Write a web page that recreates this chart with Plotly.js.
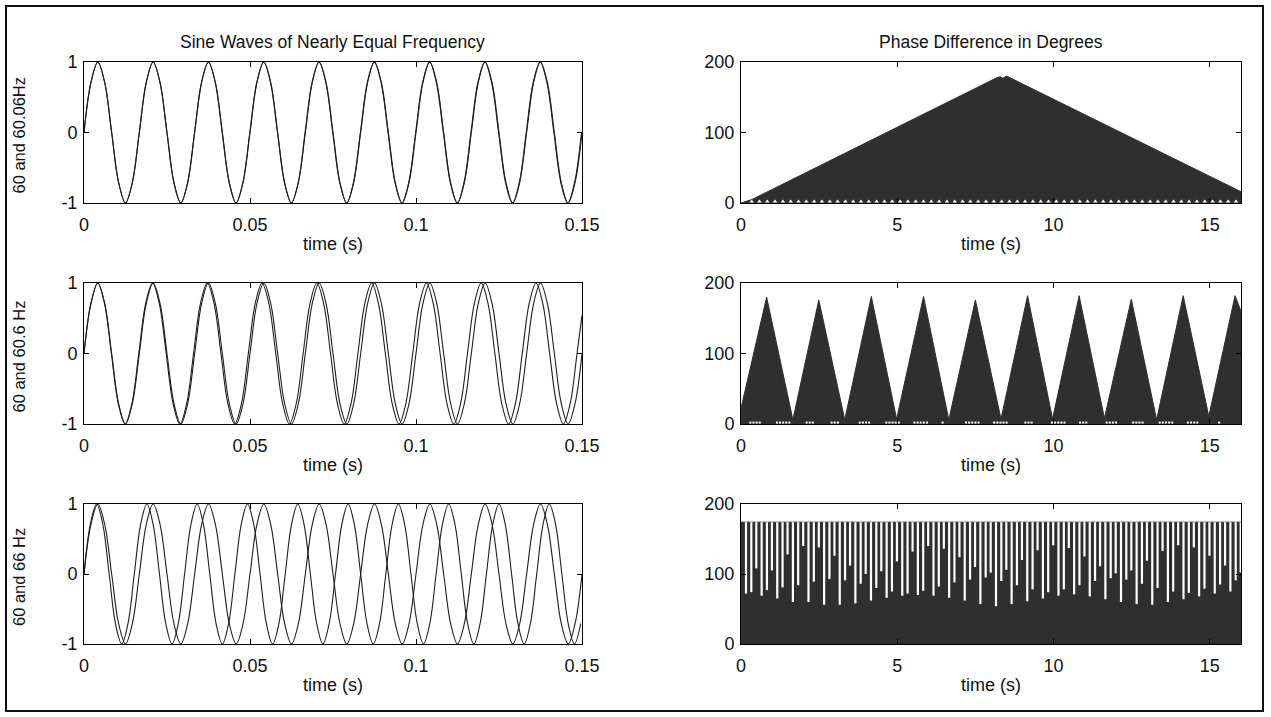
<!DOCTYPE html>
<html>
<head>
<meta charset="utf-8">
<script src="https://cdn.plot.ly/plotly-3.0.1.min.js"></script>
<style>
html,body{margin:0;padding:0;background:#fff;}
#chart{width:1271px;height:717px;}
</style>
</head>
<body>
<div id="chart"></div>
<script>
// ---------------- DATA ----------------
const panelTitles = ["Sine Waves of Nearly Equal Frequency", "Phase Difference in Degrees"];
const pairLabels = ["60 and 60.06Hz", "60 and 60.6 Hz", "60 and 66 Hz"];
const timeLabel = "time (s)";

const sineTickVals = [0, 0.05, 0.1, 0.15];
const sineTickText = ["0", "0.05", "0.1", "0.15"];
const ampTickVals = [-1, 0, 1];
const ampTickText = ["-1", "0", "1"];
const phaseTimeTickVals = [0, 5, 10, 15];
const phaseTimeTickText = ["0", "5", "10", "15"];
const degTickVals = [0, 100, 200];
const degTickText = ["0", "100", "200"];

// 60 Hz wave: time (s) and amplitude
const t60 = [0,0.00208,0.00417,0.00625,0.00833,0.01042,0.0125,0.01458,
  0.01667,0.01875,0.02083,0.02292,0.025,0.02708,0.02917,0.03125,
  0.03333,0.03542,0.0375,0.03958,0.04167,0.04375,0.04583,0.04792,
  0.05,0.05208,0.05417,0.05625,0.05833,0.06042,0.0625,0.06458,
  0.06667,0.06875,0.07083,0.07292,0.075,0.07708,0.07917,0.08125,
  0.08333,0.08542,0.0875,0.08958,0.09167,0.09375,0.09583,0.09792,
  0.1,0.10208,0.10417,0.10625,0.10833,0.11042,0.1125,0.11458,
  0.11667,0.11875,0.12083,0.12292,0.125,0.12708,0.12917,0.13125,
  0.13333,0.13542,0.1375,0.13958,0.14167,0.14375,0.14583,0.14792,
  0.15];
const y60 = [0,0.707,1,0.707,0,-0.707,-1,-0.707,
  0,0.707,1,0.707,0,-0.707,-1,-0.707,
  0,0.707,1,0.707,0,-0.707,-1,-0.707,
  0,0.707,1,0.707,0,-0.707,-1,-0.707,
  0,0.707,1,0.707,0,-0.707,-1,-0.707,
  0,0.707,1,0.707,0,-0.707,-1,-0.707,
  0,0.707,1,0.707,0,-0.707,-1,-0.707,
  0,0.707,1,0.707,0,-0.707,-1,-0.707,
  0,0.707,1,0.707,0,-0.707,-1,-0.707,
  0];

// 60.06 Hz wave
const t6006 = [0,0.00208,0.00416,0.00624,0.00833,0.01041,0.01249,0.01457,
  0.01665,0.01873,0.02081,0.02289,0.02498,0.02706,0.02914,0.03122,
  0.0333,0.03538,0.03746,0.03954,0.04163,0.04371,0.04579,0.04787,
  0.04995,0.05203,0.05411,0.05619,0.05828,0.06036,0.06244,0.06452,
  0.0666,0.06868,0.07076,0.07284,0.07493,0.07701,0.07909,0.08117,
  0.08325,0.08533,0.08741,0.08949,0.09158,0.09366,0.09574,0.09782,
  0.0999,0.10198,0.10406,0.10614,0.10823,0.11031,0.11239,0.11447,
  0.11655,0.11863,0.12071,0.12279,0.12488,0.12696,0.12904,0.13112,
  0.1332,0.13528,0.13736,0.13944,0.14153,0.14361,0.14569,0.14777,
  0.14985];
const y6006 = [0,0.707,1,0.707,0,-0.707,-1,-0.707,
  0,0.707,1,0.707,0,-0.707,-1,-0.707,
  0,0.707,1,0.707,0,-0.707,-1,-0.707,
  0,0.707,1,0.707,0,-0.707,-1,-0.707,
  0,0.707,1,0.707,0,-0.707,-1,-0.707,
  0,0.707,1,0.707,0,-0.707,-1,-0.707,
  0,0.707,1,0.707,0,-0.707,-1,-0.707,
  0,0.707,1,0.707,0,-0.707,-1,-0.707,
  0,0.707,1,0.707,0,-0.707,-1,-0.707,
  0];

// 60.6 Hz wave
const t606 = [0,0.00206,0.00413,0.00619,0.00825,0.01031,0.01238,0.01444,
  0.0165,0.01856,0.02063,0.02269,0.02475,0.02682,0.02888,0.03094,
  0.033,0.03507,0.03713,0.03919,0.04125,0.04332,0.04538,0.04744,
  0.0495,0.05157,0.05363,0.05569,0.05776,0.05982,0.06188,0.06394,
  0.06601,0.06807,0.07013,0.07219,0.07426,0.07632,0.07838,0.08045,
  0.08251,0.08457,0.08663,0.0887,0.09076,0.09282,0.09488,0.09695,
  0.09901,0.10107,0.10314,0.1052,0.10726,0.10932,0.11139,0.11345,
  0.11551,0.11757,0.11964,0.1217,0.12376,0.12582,0.12789,0.12995,
  0.13201,0.13408,0.13614,0.1382,0.14026,0.14233,0.14439,0.14645,
  0.14851,0.15];
const y606 = [0,0.707,1,0.707,0,-0.707,-1,-0.707,
  0,0.707,1,0.707,0,-0.707,-1,-0.707,
  0,0.707,1,0.707,0,-0.707,-1,-0.707,
  0,0.707,1,0.707,0,-0.707,-1,-0.707,
  0,0.707,1,0.707,0,-0.707,-1,-0.707,
  0,0.707,1,0.707,0,-0.707,-1,-0.707,
  0,0.707,1,0.707,0,-0.707,-1,-0.707,
  0,0.707,1,0.707,0,-0.707,-1,-0.707,
  0,0.707,1,0.707,0,-0.707,-1,-0.707,
  0,0.54];

// 66 Hz wave
const t66 = [0,0.00189,0.00379,0.00568,0.00758,0.00947,0.01136,0.01326,
  0.01515,0.01705,0.01894,0.02083,0.02273,0.02462,0.02652,0.02841,
  0.0303,0.0322,0.03409,0.03598,0.03788,0.03977,0.04167,0.04356,
  0.04545,0.04735,0.04924,0.05114,0.05303,0.05492,0.05682,0.05871,
  0.06061,0.0625,0.06439,0.06629,0.06818,0.07008,0.07197,0.07386,
  0.07576,0.07765,0.07955,0.08144,0.08333,0.08523,0.08712,0.08902,
  0.09091,0.0928,0.0947,0.09659,0.09848,0.10038,0.10227,0.10417,
  0.10606,0.10795,0.10985,0.11174,0.11364,0.11553,0.11742,0.11932,
  0.12121,0.12311,0.125,0.12689,0.12879,0.13068,0.13258,0.13447,
  0.13636,0.13826,0.14015,0.14205,0.14394,0.14583,0.14773,0.14962];
const y66 = [0,0.707,1,0.707,0,-0.707,-1,-0.707,
  0,0.707,1,0.707,0,-0.707,-1,-0.707,
  0,0.707,1,0.707,0,-0.707,-1,-0.707,
  0,0.707,1,0.707,0,-0.707,-1,-0.707,
  0,0.707,1,0.707,0,-0.707,-1,-0.707,
  0,0.707,1,0.707,0,-0.707,-1,-0.707,
  0,0.707,1,0.707,0,-0.707,-1,-0.707,
  0,0.707,1,0.707,0,-0.707,-1,-0.707,
  0,0.707,1,0.707,0,-0.707,-1,-0.707,
  0,0.707,1,0.707,0,-0.707,-1,-0.707];

// Phase difference 60 vs 60.06 Hz (envelope, degrees)
const phase1T = [0, 0.35, 8.2, 8.3, 8.38, 8.5, 16];
const phase1Y = [0, 5, 178, 179, 177, 180, 16];
// white sample dips along the bottom
const dips1T = [0.34,0.59,0.84,1.09,1.34,1.59,1.84,2.09,2.34,2.59,2.84,3.09,3.34,3.59,3.84,
  4.09,4.34,4.59,4.84,5.09,5.34,5.59,5.84,6.09,6.34,6.59,6.84,7.09,7.34,7.59,7.84,
  8.09,8.34,8.59,8.84,9.09,9.34,9.59,9.84,10.09,10.34,10.59,10.84,11.09,11.34,11.59,11.84,
  12.09,12.34,12.59,12.84,13.09,13.34,13.59,13.84,14.09,14.34,14.59,14.84,15.09,15.34,15.59,15.84];
const dipLevel = 2;

// Phase difference 60 vs 60.6 Hz (envelope, degrees)
const phase2T = [0,0.82,1.66,2.49,3.32,4.17,4.98,5.84,6.65,7.5,8.32,9.17,9.97,10.82,11.63,12.49,13.3,14.15,14.97,15.81,16];
const phase2Y = [22,180,6,176,6,181,7,181,6,176,7,182,7,182,8,177,6,182,11,182,160];
const dips2T = [0.3,0.4,0.5,0.6, 1.15,1.25,1.35,1.45,1.55, 2.1,2.2,2.3, 2.9,3.0,3.1,
  3.8,3.9,4.0,4.1, 4.65,4.75,4.85,4.95,5.05, 5.55,5.65,5.75,5.85,5.95, 6.45,
  7.2,7.3,7.4,7.5,7.6, 8.1,8.2,8.3,8.4,8.5, 9.1,9.2,9.3, 9.95,10.05,10.15,10.25,10.35,
  10.85,10.95,11.05, 11.7,11.8,11.9,12.0, 12.55,12.65,12.75,12.85,
  13.4,13.5,13.6,13.7,13.8, 14.3,14.4,14.5,14.6, 15.3];

// Phase difference 60 vs 66 Hz: top level and the white gaps
const phase3T = [0, 16];
const phase3Y = [174, 174];
const gap3T = [0.16,0.33,0.49,0.66,0.83,0.99, 1.16,1.33,1.49,1.66,1.83,1.99,
  2.16,2.33,2.49,2.66,2.83,2.99, 3.16,3.33,3.49,3.66,3.83,3.99,
  4.16,4.33,4.49,4.66,4.83,4.99, 5.16,5.33,5.49,5.66,5.83,5.99,
  6.16,6.33,6.49,6.66,6.83,6.99, 7.16,7.33,7.49,7.66,7.83,7.99,
  8.16,8.33,8.49,8.66,8.83,8.99, 9.16,9.33,9.49,9.66,9.83,9.99,
  10.16,10.33,10.49,10.66,10.83,10.99, 11.16,11.33,11.49,11.66,11.83,11.99,
  12.16,12.33,12.49,12.66,12.83,12.99, 13.16,13.33,13.49,13.66,13.83,13.99,
  14.16,14.33,14.49,14.66,14.83,14.99, 15.16,15.33,15.49,15.66,15.83,15.99];
const gap3Bottom = [72,74,108, 69,77,105, 65,81,128, 60,84,140, 60,89,138, 56,93,126,
  56,91,112, 58,86,100, 62,80,104, 66,75,118, 69,72,132, 70,76,140,
  69,82,136, 66,88,124, 62,92,110, 57,95,102, 54,90,106, 57,84,120,
  61,78,134, 65,74,141, 69,78,137, 71,84,125, 68,90,111, 64,94,101,
  60,92,105, 57,86,119, 56,80,133, 60,75,141, 64,73,138, 68,79,126,
  72,85,112, 75,91,102];

// ---------------- STYLE / LAYOUT ----------------
const W = 1271, H = 717;
const FONT = 'Liberation Sans, Arial, Helvetica, sans-serif';
const INK = '#1e1e1e';
const FILL = '#2f2f2f';

const leftDom = [84 / W, 582 / W];
const rightDom = [741 / W, 1241 / W];
const rowsPx = [[62, 203], [283, 424], [504, 644]];
const rowDom = rowsPx.map(r => [1 - r[1] / H, 1 - r[0] / H]);

const waveLine = {color: INK, width: 1.1, shape: 'spline', smoothing: 1};
const traces = [
  {x: t60, y: y60, xaxis: 'x', yaxis: 'y', mode: 'lines', line: waveLine},
  {x: t6006, y: y6006, xaxis: 'x', yaxis: 'y', mode: 'lines', line: waveLine},
  {x: t60, y: y60, xaxis: 'x3', yaxis: 'y3', mode: 'lines', line: waveLine},
  {x: t606, y: y606, xaxis: 'x3', yaxis: 'y3', mode: 'lines', line: waveLine},
  {x: t60, y: y60, xaxis: 'x5', yaxis: 'y5', mode: 'lines', line: waveLine},
  {x: t66, y: y66, xaxis: 'x5', yaxis: 'y5', mode: 'lines', line: waveLine},

  {x: phase1T, y: phase1Y, xaxis: 'x2', yaxis: 'y2', mode: 'lines', fill: 'tozeroy',
   fillcolor: FILL, line: {color: FILL, width: 1}},
  {x: dips1T, y: dips1T.map(() => dipLevel), xaxis: 'x2', yaxis: 'y2', mode: 'markers',
   marker: {symbol: 'triangle-up', size: 4, color: '#ffffff', line: {width: 0}}},

  {x: phase2T, y: phase2Y, xaxis: 'x4', yaxis: 'y4', mode: 'lines', fill: 'tozeroy',
   fillcolor: FILL, line: {color: FILL, width: 1}},
  {x: dips2T, y: dips2T.map(() => dipLevel), xaxis: 'x4', yaxis: 'y4', mode: 'markers',
   marker: {symbol: 'square', size: 2, color: '#ffffff', line: {width: 0}}},

  {x: phase3T, y: phase3Y, xaxis: 'x6', yaxis: 'y6', mode: 'lines', fill: 'tozeroy',
   fillcolor: FILL, line: {color: FILL, width: 1}},
  {x: gap3T.flatMap(t => [t, t, null]),
   y: gap3Bottom.flatMap(b => [phase3Y[0], b, null]),
   xaxis: 'x6', yaxis: 'y6', mode: 'lines', line: {color: '#ffffff', width: 2.2}}
];

const tickFont = {family: FONT, size: 18, color: '#111'};
function axisBase() {
  return {showline: true, linecolor: '#000', linewidth: 1, mirror: 'ticks',
          ticks: 'inside', ticklen: 5, tickwidth: 1, tickcolor: '#000',
          showgrid: false, zeroline: false, tickmode: 'array', tickfont: tickFont,
          fixedrange: true};
}
function xAxis(dom, anchor, range, vals, text) {
  return Object.assign(axisBase(), {domain: dom, anchor: anchor, range: range,
    tickvals: vals, ticktext: text, ticklabelstandoff: 5,
    title: {text: timeLabel, font: {family: FONT, size: 18, color: '#111'}, standoff: 3}});
}
function yAxis(dom, anchor, range, vals, text) {
  return Object.assign(axisBase(), {domain: dom, anchor: anchor, range: range,
    tickvals: vals, ticktext: text, ticklabelstandoff: 2});
}

const layout = {
  width: W, height: H,
  margin: {l: 0, r: 0, t: 0, b: 0},
  paper_bgcolor: '#ffffff', plot_bgcolor: '#ffffff',
  showlegend: false,
  font: {family: FONT, color: '#111'},
  xaxis:  xAxis(leftDom, 'y', [0, 0.15], sineTickVals, sineTickText),
  yaxis:  yAxis(rowDom[0], 'x', [-1, 1], ampTickVals, ampTickText),
  xaxis2: xAxis(rightDom, 'y2', [0, 16], phaseTimeTickVals, phaseTimeTickText),
  yaxis2: yAxis(rowDom[0], 'x2', [0, 200], degTickVals, degTickText),
  xaxis3: xAxis(leftDom, 'y3', [0, 0.15], sineTickVals, sineTickText),
  yaxis3: yAxis(rowDom[1], 'x3', [-1, 1], ampTickVals, ampTickText),
  xaxis4: xAxis(rightDom, 'y4', [0, 16], phaseTimeTickVals, phaseTimeTickText),
  yaxis4: yAxis(rowDom[1], 'x4', [0, 200], degTickVals, degTickText),
  xaxis5: xAxis(leftDom, 'y5', [0, 0.15], sineTickVals, sineTickText),
  yaxis5: yAxis(rowDom[2], 'x5', [-1, 1], ampTickVals, ampTickText),
  xaxis6: xAxis(rightDom, 'y6', [0, 16], phaseTimeTickVals, phaseTimeTickText),
  yaxis6: yAxis(rowDom[2], 'x6', [0, 200], degTickVals, degTickText),
  shapes: [
    {type: 'rect', xref: 'paper', yref: 'paper', x0: 6 / W, x1: 1263 / W,
     y0: 1 - 711 / H, y1: 1 - 6 / H, line: {color: '#111', width: 2}, fillcolor: 'rgba(0,0,0,0)'}
  ],
  annotations: [
    {text: panelTitles[0], xref: 'paper', yref: 'paper', x: (leftDom[0] + leftDom[1]) / 2,
     y: 1 - 42 / H, xanchor: 'center', yanchor: 'middle', showarrow: false,
     font: {family: FONT, size: 17.5, color: '#111'}},
    {text: panelTitles[1], xref: 'paper', yref: 'paper', x: (rightDom[0] + rightDom[1]) / 2,
     y: 1 - 42 / H, xanchor: 'center', yanchor: 'middle', showarrow: false,
     font: {family: FONT, size: 17.5, color: '#111'}}
  ].concat(pairLabels.map((lab, i) => ({
     text: lab, xref: 'paper', yref: 'paper', x: 19 / W,
     y: (rowDom[i][0] + rowDom[i][1]) / 2 - 3 / H, xanchor: 'center', yanchor: 'middle',
     textangle: -90, showarrow: false, font: {family: FONT, size: 16.5, color: '#111'}})))
};

Plotly.newPlot('chart', traces, layout, {staticPlot: true, displayModeBar: false});
</script>
</body>
</html>
